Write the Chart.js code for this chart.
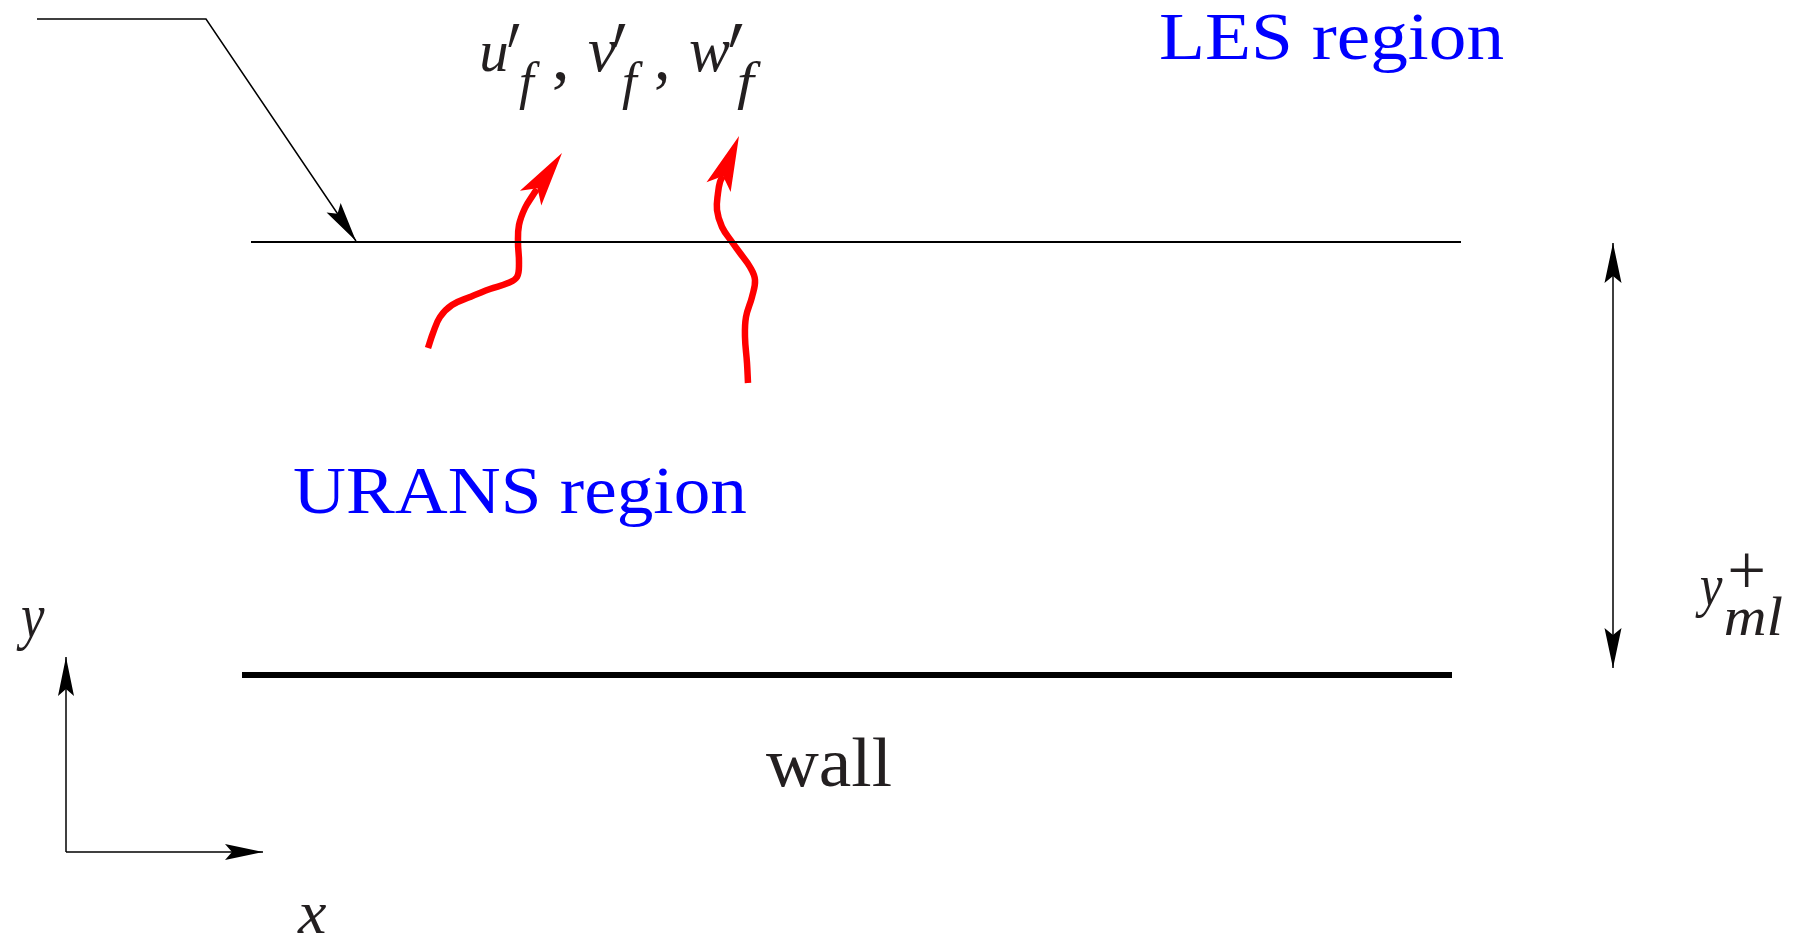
<!DOCTYPE html>
<html>
<head>
<meta charset="utf-8">
<script src="https://cdn.jsdelivr.net/npm/chart.js@4/dist/chart.umd.min.js"></script>
<style>
  html, body { margin: 0; padding: 0; background: #ffffff; }
  canvas { display: block; }
</style>
</head>
<body>
<canvas id="sketch" width="1794" height="935"></canvas>
<script>
// Geometry of the hybrid URANS/LES near-wall sketch (x right, y down, in sketch units)
const leaderX = [37, 206, 356];
const leaderY = [19, 19, 241];

const interfaceX = [251, 1461];
const interfaceY = [242, 242];

const wallX = [242, 1452];
const wallY = [675, 675];

const matchingSpanX = [1613, 1613];
const matchingSpanY = [243, 668];

const axisYX = [66, 66];
const axisYY = [852, 657];
const axisXX = [66, 263];
const axisXY = [852, 852];

// Forcing fluctuations crossing the interface
const fluct1X = [428, 433, 440, 452, 470, 490, 508, 517, 519, 518, 519, 525, 533, 537];
const fluct1Y = [348, 333, 317, 305, 297, 289, 283, 277, 263, 243, 225, 208, 195, 189];
const fluct1Tip = [562, 153];

const fluct2X = [748, 747, 745, 746, 752, 755, 750, 740, 732, 722, 717, 718, 720, 723];
const fluct2Y = [383, 363, 337, 317, 297, 280, 267, 253, 242, 227, 210, 193, 182, 176];
const fluct2Tip = [739, 136];

const regionNames = ['LES region', 'URANS region'];
const wallName = 'wall';

function pts(xs, ys) { return xs.map((x, i) => ({ x: x, y: ys[i] })); }

function lineSet(xs, ys, color, width, tension) {
  return {
    data: pts(xs, ys),
    showLine: true,
    borderColor: color,
    borderWidth: width,
    pointRadius: 0,
    fill: false,
    tension: tension || 0,
    borderCapStyle: 'butt',
    borderJoinStyle: 'miter',
    clip: false
  };
}

const BLACK = '#000000';
const RED = '#ff0000';
const BLUE = '#0000ff';
const INK = '#231f20';

// Arrowheads: tip point, the point the head is aimed from, and head shape
const arrowHeads = [
  { tip: [leaderX[2], leaderY[2]], from: [leaderX[1], leaderY[1]], len: 40, half: 8.5, notch: 7, color: BLACK },
  { tip: [matchingSpanX[0], matchingSpanY[0]], from: [matchingSpanX[1], matchingSpanY[1]], len: 40, half: 8.5, notch: 7, color: BLACK },
  { tip: [matchingSpanX[1], matchingSpanY[1]], from: [matchingSpanX[0], matchingSpanY[0]], len: 40, half: 8.5, notch: 7, color: BLACK },
  { tip: [axisYX[1], axisYY[1]], from: [axisYX[0], axisYY[0]], len: 39, half: 8, notch: 7, color: BLACK },
  { tip: [axisXX[1], axisXY[1]], from: [axisXX[0], axisXY[0]], len: 38, half: 8, notch: 7, color: BLACK },
  { tip: fluct1Tip, from: [fluct1X[fluct1X.length - 1], fluct1Y[fluct1Y.length - 1]], len: 55, half: 13, notch: 12, color: RED },
  { tip: fluct2Tip, from: [fluct2X[fluct2X.length - 1], fluct2Y[fluct2Y.length - 1]], len: 55, half: 13, notch: 12, color: RED }
];

const SERIF = '"Liberation Serif", "DejaVu Serif", serif';
const IT = (px) => 'italic ' + px + 'px ' + SERIF;
const UP = (px) => px + 'px ' + SERIF;
const PRIME = '80px "DejaVu Serif", serif';

// Text pieces with their ink boxes [x0, y0, x1, y1]
const textPieces = [
  { t: regionNames[0], font: UP(72), box: [1161, 13, 1503, 73], color: BLUE },
  { t: regionNames[1], font: UP(72), box: [294, 468, 746, 527], color: BLUE },
  { t: wallName, font: UP(72), box: [766, 737, 891, 787], color: INK },
  { t: 'y', font: IT(62), box: [16, 608, 45, 650], color: INK },
  { t: 'x', font: IT(62), box: [297, 905, 327, 933], color: INK },
  { t: 'y', font: IT(64), box: [1695, 578, 1723, 618], color: INK },
  { t: '+', font: UP(48), box: [1730, 553, 1763, 587], color: INK },
  { t: 'ml', font: IT(46), box: [1725, 595, 1782, 635], color: INK },
  { t: 'u', font: IT(66), box: [482, 43, 507, 72], color: INK },
  { t: '\u2032', font: PRIME, box: [508, 23, 520, 47], color: INK },
  { t: 'f', font: IT(48), box: [519, 60, 540, 110], color: INK },
  { t: ',', font: UP(66), box: [554, 72, 566, 90], color: INK },
  { t: 'v', font: IT(66), box: [588, 42, 617, 72], color: INK },
  { t: '\u2032', font: PRIME, box: [613, 23, 626, 47], color: INK },
  { t: 'f', font: IT(48), box: [622, 60, 643, 110], color: INK },
  { t: ',', font: UP(66), box: [656, 72, 667, 90], color: INK },
  { t: 'w', font: IT(66), box: [690, 42, 730, 72], color: INK },
  { t: '\u2032', font: PRIME, box: [729, 23, 743, 47], color: INK },
  { t: 'f', font: IT(48), box: [737, 60, 761, 110], color: INK }
];

const arrowPlugin = {
  id: 'arrowHeads',
  afterDatasetsDraw(chart) {
    const ctx = chart.ctx, sx = chart.scales.x, sy = chart.scales.y;
    arrowHeads.forEach(a => {
      const tx = sx.getPixelForValue(a.tip[0]), ty = sy.getPixelForValue(a.tip[1]);
      const fx = sx.getPixelForValue(a.from[0]), fy = sy.getPixelForValue(a.from[1]);
      let dx = fx - tx, dy = fy - ty;
      const d = Math.hypot(dx, dy); dx /= d; dy /= d;
      const px = -dy, py = dx;
      const bx = tx + dx * a.len, by = ty + dy * a.len;
      const nx = tx + dx * (a.len - a.notch), ny = ty + dy * (a.len - a.notch);
      ctx.save();
      ctx.fillStyle = a.color;
      ctx.beginPath();
      ctx.moveTo(tx, ty);
      ctx.lineTo(bx + px * a.half, by + py * a.half);
      ctx.lineTo(nx, ny);
      ctx.lineTo(bx - px * a.half, by - py * a.half);
      ctx.closePath();
      ctx.fill();
      ctx.restore();
    });
  }
};

const textPlugin = {
  id: 'sketchText',
  afterDraw(chart) {
    const ctx = chart.ctx, sx = chart.scales.x, sy = chart.scales.y;
    textPieces.forEach(p => {
      const x0 = sx.getPixelForValue(p.box[0]), y0 = sy.getPixelForValue(p.box[1]);
      const x1 = sx.getPixelForValue(p.box[2]), y1 = sy.getPixelForValue(p.box[3]);
      ctx.save();
      ctx.font = p.font;
      ctx.textAlign = 'left';
      ctx.textBaseline = 'alphabetic';
      const m = ctx.measureText(p.t);
      const iw = m.actualBoundingBoxLeft + m.actualBoundingBoxRight;
      const ih = m.actualBoundingBoxAscent + m.actualBoundingBoxDescent;
      ctx.translate(x0, y0);
      ctx.scale((x1 - x0) / iw, (y1 - y0) / ih);
      ctx.fillStyle = p.color;
      ctx.fillText(p.t, m.actualBoundingBoxLeft, m.actualBoundingBoxAscent);
      ctx.restore();
    });
  }
};

new Chart(document.getElementById('sketch').getContext('2d'), {
  type: 'scatter',
  data: {
    datasets: [
      lineSet(leaderX, leaderY, BLACK, 1.5),
      lineSet(interfaceX, interfaceY, BLACK, 1.8),
      lineSet(wallX, wallY, BLACK, 6),
      lineSet(matchingSpanX, matchingSpanY, BLACK, 1.5),
      lineSet(axisYX, axisYY, BLACK, 1.5),
      lineSet(axisXX, axisXY, BLACK, 1.5),
      lineSet(fluct1X, fluct1Y, RED, 6.5, 0.4),
      lineSet(fluct2X, fluct2Y, RED, 6.5, 0.4)
    ]
  },
  options: {
    responsive: false,
    animation: false,
    devicePixelRatio: 1,
    events: [],
    layout: { padding: 0 },
    plugins: { legend: { display: false }, tooltip: { enabled: false }, title: { display: false } },
    scales: {
      x: { type: 'linear', min: 0, max: 1794, display: false },
      y: { type: 'linear', min: 0, max: 935, reverse: true, display: false }
    }
  },
  plugins: [arrowPlugin, textPlugin]
});
</script>
</body>
</html>
